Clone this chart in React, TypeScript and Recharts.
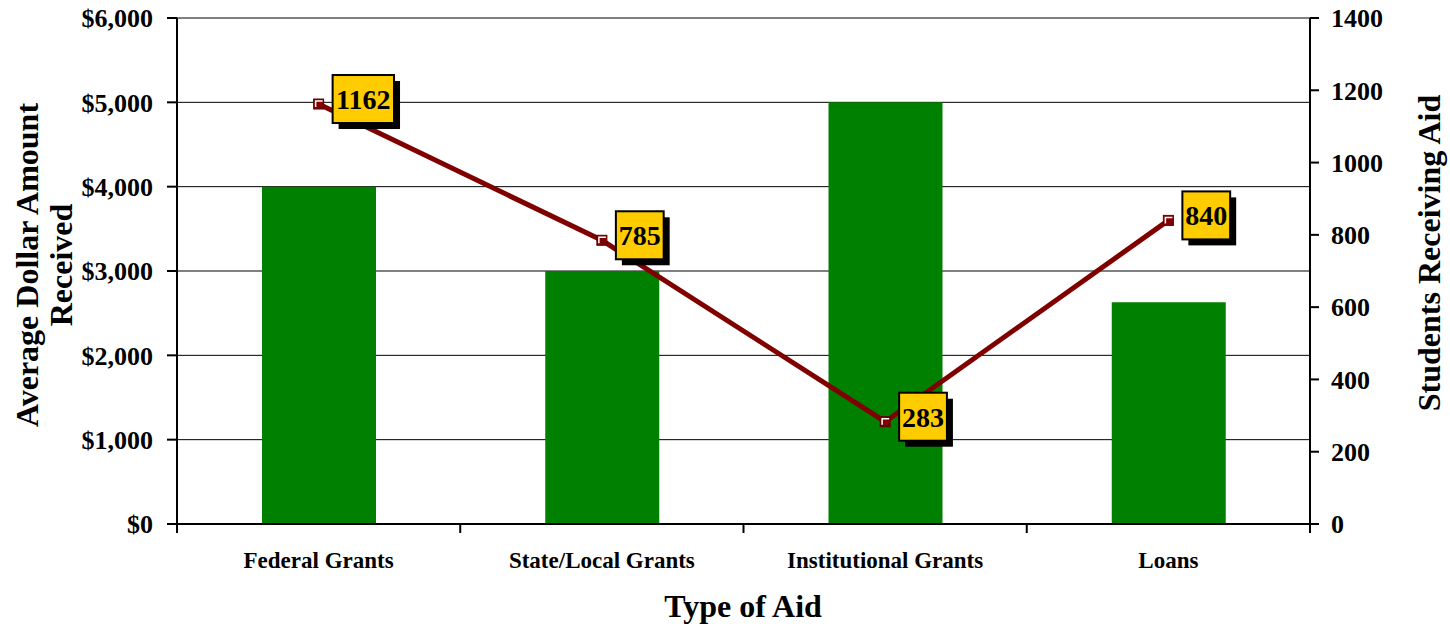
import { Bar, CartesianGrid, ComposedChart, Label, LabelList, Line, XAxis, YAxis } from "recharts";

const aidTypes = ["Federal Grants", "State/Local Grants", "Institutional Grants", "Loans"];
const avgAmount = [4000, 3000, 5000, 2630];
const studentCounts = [1162, 785, 283, 840];
const dollarTicks = [0, 1000, 2000, 3000, 4000, 5000, 6000];
const studentTicks = [0, 200, 400, 600, 800, 1000, 1200, 1400];

const rows = aidTypes.map((name, i) => ({ name, amount: avgAmount[i], students: studentCounts[i] }));

const serif = '"Liberation Serif", "Times New Roman", serif';
const bandHalf = 1133 / aidTypes.length / 2;

function CategoryTick(props: any) {
  const { x, y, payload, index } = props;
  const off = payload?.offset || bandHalf;
  return (
    <g>
      <line x1={x - off} y1={y} x2={x - off} y2={y + 9} stroke="#000" strokeWidth={2} />
      {index === aidTypes.length - 1 ? (
        <line x1={x + off} y1={y} x2={x + off} y2={y + 9} stroke="#000" strokeWidth={2} />
      ) : null}
      <text x={x} y={y + 44} textAnchor="middle" fontFamily={serif} fontWeight="bold" fontSize={23} fill="#000">
        {payload.value}
      </text>
    </g>
  );
}

function SquareDot(props: any) {
  const { cx, cy } = props;
  if (cx == null || cy == null) return null;
  return (
    <g>
      <rect x={cx - 5} y={cy - 5} width={10} height={10} fill="#800000" stroke="#5a0000" strokeWidth={1} />
      <polyline points={`${cx - 3},${cy + 3} ${cx - 3},${cy - 3} ${cx + 4},${cy - 3}`} fill="none" stroke="#fff" strokeWidth={1.5} />
    </g>
  );
}

function CountBadge(props: any) {
  const { x, y, value } = props;
  const text = String(value);
  const w = text.length * 13.6 + 7;
  const h = 48;
  const bx = x + 14;
  const by = y - 29;
  return (
    <g>
      <rect x={bx + 6} y={by + 6} width={w} height={h} fill="#000" />
      <rect x={bx} y={by} width={w} height={h} fill="#ffcc00" stroke="#000" strokeWidth={2} />
      <text x={bx + w / 2} y={by + h / 2 + 10} textAnchor="middle" fontFamily={serif} fontWeight="bold" fontSize={28} fill="#000">
        {text}
      </text>
    </g>
  );
}

export default function App() {
  const tickStyle = { fontFamily: serif, fontWeight: "bold", fontSize: 26, fill: "#000" };
  return (
    <div style={{ position: "absolute", left: 0, top: 0, width: 1450, height: 628, background: "#fff" }}>
      <ComposedChart width={1450} height={628} data={rows} margin={{ top: 18, right: 0, bottom: 0, left: 0 }}>
        <CartesianGrid yAxisId="left" vertical={false} stroke="#000" strokeWidth={1} />
        <XAxis
          dataKey="name"
          height={104}
          tickLine={false}
          tickSize={0}
          tickMargin={0}
          axisLine={{ stroke: "#000", strokeWidth: 2 }}
          tick={<CategoryTick />}
          interval={0}
        >
          <Label
            content={() => (
              <text x={743} y={617} textAnchor="middle" fontFamily={serif} fontWeight="bold" fontSize={32} fill="#000">
                Type of Aid
              </text>
            )}
          />
        </XAxis>
        <YAxis
          yAxisId="left"
          width={177}
          domain={[0, 6000]}
          ticks={dollarTicks}
          tickFormatter={(v: number) => `$${v.toLocaleString("en-US")}`}
          tick={tickStyle}
          tickSize={10}
          tickMargin={14}
          tickLine={{ stroke: "#000", strokeWidth: 2 }}
          axisLine={{ stroke: "#000", strokeWidth: 2 }}
        >
          <Label
            content={() => (
              <g transform="translate(0,265) rotate(-90)" fontFamily={serif} fontWeight="bold" fontSize={32} fill="#000">
                <text x={0} y={38} textAnchor="middle">Average Dollar Amount</text>
                <text x={0} y={72} textAnchor="middle">Received</text>
              </g>
            )}
          />
        </YAxis>
        <YAxis
          yAxisId="right"
          orientation="right"
          width={140}
          domain={[0, 1400]}
          ticks={studentTicks}
          tick={tickStyle}
          tickSize={9}
          tickMargin={12}
          tickLine={{ stroke: "#000", strokeWidth: 2 }}
          axisLine={{ stroke: "#000", strokeWidth: 2 }}
        >
          <Label
            content={() => (
              <text
                transform="translate(1440,253) rotate(-90)"
                textAnchor="middle"
                fontFamily={serif}
                fontWeight="bold"
                fontSize={32}
                fill="#000"
              >
                Students Receiving Aid
              </text>
            )}
          />
        </YAxis>
        <Bar yAxisId="left" dataKey="amount" fill="#008000" barSize={114} isAnimationActive={false} />
        <Line
          yAxisId="right"
          dataKey="students"
          stroke="#800000"
          strokeWidth={5}
          dot={<SquareDot />}
          activeDot={false}
          isAnimationActive={false}
        >
          <LabelList dataKey="students" content={<CountBadge />} />
        </Line>
      </ComposedChart>
    </div>
  );
}
